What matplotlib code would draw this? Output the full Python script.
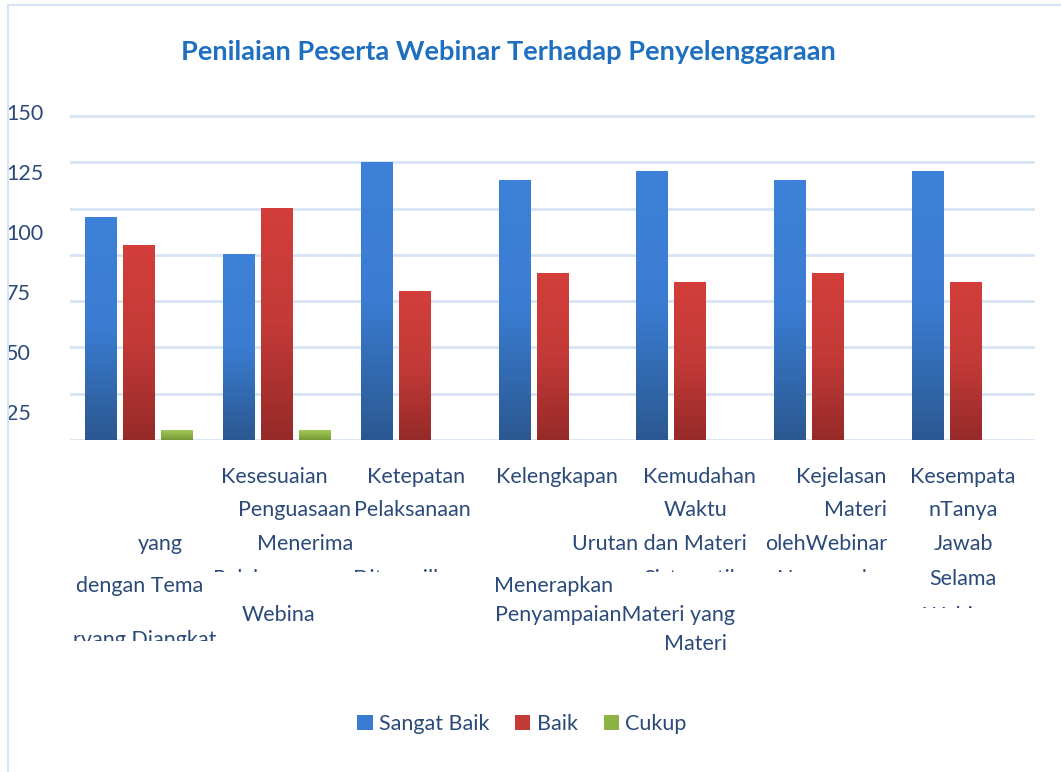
import matplotlib.pyplot as plt
import numpy as np
from matplotlib.colors import LinearSegmentedColormap
from matplotlib.transforms import Bbox
from matplotlib.lines import Line2D

plt.rcParams['font.family'] = ['Lato', 'DejaVu Sans']

# Data
series_names = ['Sangat Baik', 'Baik', 'Cukup']
sangat_baik = [96, 80, 120, 112, 116, 112, 116]
baik = [84, 100, 64, 72, 68, 72, 68]
cukup = [4, 4, 0, 0, 0, 0, 0]
ytick_labels = [25, 50, 75, 100, 125, 150]
title = 'Penilaian Peserta Webinar Terhadap Penyelenggaraan'

W, H = 1061, 772
txt_color = '#2b4a7a'
grid_color = '#d7e4f4'

fig = plt.figure(figsize=(W / 100, H / 100), dpi=100)
ax = fig.add_axes([70 / W, 1 - 440 / H, 965 / W, 328 / H])

x = np.arange(len(sangat_baik))
width = 0.232
step = 0.275
styles = [('#3a7cd1', '#3d82d8', '#2b5891'),
          ('#c33a37', '#d33e3a', '#962a29'),
          ('#8db345', '#a0c756', '#76963a')]

for i, (vals, name) in enumerate(zip([sangat_baik, baik, cukup], series_names)):
    mid, top, bot = styles[i]
    bars = ax.bar(x + (i - 1) * step, vals, width, color=mid, label=name, zorder=2)
    cmap = LinearSegmentedColormap.from_list(name, [bot, mid, top])
    grad = np.linspace(0, 1, 128).reshape(-1, 1)
    for b in bars:
        h = b.get_height()
        if h <= 0:
            continue
        ax.imshow(grad, extent=[b.get_x(), b.get_x() + b.get_width(), 0, h],
                  origin='lower', aspect='auto', cmap=cmap, zorder=3)

ax.set_xlim(-0.5, 6.5)
ax.set_ylim(0, 140)
ax.set_xticks([])

# gridlines every 20, labels sit off the grid as in the original
ax.set_yticks(np.arange(0, 141, 20), minor=True)
ax.yaxis.grid(True, which='minor', color=grid_color, lw=2)
ax.yaxis.grid(False, which='major')
ax.set_yticks([12.2 + (v - 25) * 1.036 for v in ytick_labels])
ax.set_yticklabels([str(v) for v in ytick_labels])
ax.tick_params(axis='y', which='both', length=0)
ax.tick_params(axis='y', which='major', pad=46, labelsize=15.5, labelcolor=txt_color)
for lbl in ax.get_yticklabels():
    lbl.set_horizontalalignment('left')
ax.set_axisbelow(True)
for s in ax.spines.values():
    s.set_visible(False)

fig.text(508 / W, 1 - 52 / H, title, ha='center', va='center',
         fontsize=19.6, fontweight='bold', color='#1f6fc0')


def put(s, px, py, ha='center', clip=None):
    t = fig.text(px / W, 1 - py / H, s, ha=ha, va='baseline',
                 fontsize=15.5, color=txt_color)
    if clip is not None:
        t.set_clip_box(Bbox([[0, H - clip], [W, H]]))
        t.set_clip_on(True)


# category labels (wrapped and cut off like the original)
put('Kesesuaian', 274, 483)
put('Ketepatan', 416, 483)
put('Kelengkapan', 557, 483)
put('Kemudahan', 699, 483)
put('Kejelasan', 841, 483)
put('Kesempata', 963, 483)
put('Penguasaan', 294, 516)
put('Pelaksanaan', 412, 516)
put('Waktu', 696, 516)
put('Materi', 855, 516)
put('nTanya', 963, 516)
put('yang', 160, 550)
put('Menerima', 305, 550)
put('Urutan dan Materi', 572, 550, ha='left')
put('olehWebinar', 887, 550, ha='right')
put('Jawab', 963, 550)
put('Selama', 963, 585)
put('dengan Tema', 140, 592)
put('Menerapkan', 554, 592)
put('Webina', 278, 621)
put('PenyampaianMateri yang', 495, 621, ha='left')
put('Materi', 696, 650)
put('Pelaksanaan', 213, 585, ha='left', clip=572)
put('Ditampilkan', 353, 585, ha='left', clip=572)
put('Sistematika', 643, 585, ha='left', clip=572)
put('Narasumber', 777, 585, ha='left', clip=572)
put('Webinar', 963, 622, clip=608)
put('ryang Diangkat', 145, 646, clip=641)

fig.legend(loc='center', bbox_to_anchor=(522 / W, 1 - 724 / H), ncol=3,
           frameon=False, fontsize=15.5, handlelength=0.7, handleheight=0.7,
           handletextpad=0.3, columnspacing=1.2, labelcolor=txt_color)

# outer chart frame
fig.add_artist(Line2D([8 / W, 8 / W], [0, 1 - 5 / H], transform=fig.transFigure,
                      color='#d5e3f3', lw=1.5))
fig.add_artist(Line2D([8 / W, 1], [1 - 5 / H, 1 - 5 / H], transform=fig.transFigure,
                      color='#d5e3f3', lw=1.5))

fig.savefig('out.png', dpi=100)
